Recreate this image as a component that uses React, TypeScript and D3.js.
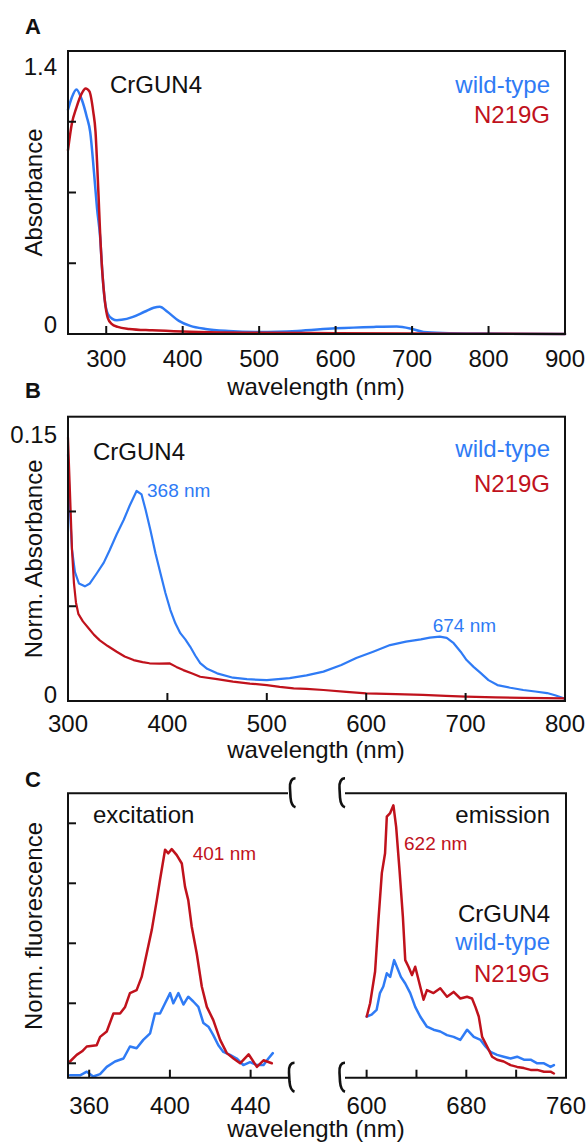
import React from "react";
import * as d3 from "d3";

// ---------- DATA ----------
// Panel A: absorbance spectra
const A_blueNm = [250, 255, 261, 268, 274.5, 279, 284, 288, 292, 295, 298, 302, 308, 314, 320, 335, 350, 362, 370, 380, 395, 410, 430, 460, 500, 550, 600, 650, 680, 700, 715, 740, 800, 900];
const A_blueAbs = [1.11, 1.17, 1.21, 1.16, 1.075, 1.0, 0.8, 0.62, 0.48, 0.3, 0.17, 0.1, 0.075, 0.068, 0.07, 0.085, 0.11, 0.13, 0.135, 0.11, 0.065, 0.04, 0.025, 0.015, 0.01, 0.015, 0.028, 0.035, 0.037, 0.025, 0.01, 0.005, 0.002, 0.0];
const A_redNm = [250, 255, 261, 268, 273, 278, 283, 286, 288, 290, 292, 295, 298, 302, 307, 315, 330, 360, 400, 450, 500, 600, 700, 800, 900];
const A_redAbs = [0.91, 1.04, 1.12, 1.19, 1.215, 1.2, 1.1, 1.0, 0.85, 0.68, 0.5, 0.3, 0.17, 0.08, 0.05, 0.035, 0.025, 0.018, 0.012, 0.008, 0.006, 0.004, 0.002, 0.001, 0.0];
const A_xTicks = [300, 400, 500, 600, 700, 800];
const A_xLabels = [300, 400, 500, 600, 700, 800, 900];
const A_yTicks = [0.35, 0.7, 1.05];
const A_yLabels = ["0", "1.4"];

// Panel B: normalized absorbance
const B_blueNm = [300, 302, 304, 307, 311, 317, 322, 329, 336, 342, 349, 356, 362, 369, 374, 378, 383, 388, 393, 398, 403, 408, 413, 418, 423, 428, 433, 440, 450, 466, 480, 500, 523, 540, 557, 575, 590, 607, 624, 640, 655, 664, 674, 681, 688, 695, 701, 708, 715, 723, 732, 745, 758, 770, 782, 790, 798, 800];
const B_blueAbs = [0.13, 0.1, 0.08, 0.068, 0.062, 0.0605, 0.062, 0.0674, 0.073, 0.0797, 0.088, 0.0955, 0.103, 0.1108, 0.109, 0.101, 0.09, 0.078, 0.0674, 0.057, 0.048, 0.041, 0.0358, 0.0325, 0.0286, 0.024, 0.02, 0.017, 0.0146, 0.0123, 0.0115, 0.011, 0.0121, 0.0135, 0.0155, 0.019, 0.0227, 0.026, 0.0295, 0.0313, 0.0325, 0.0334, 0.034, 0.0333, 0.0305, 0.026, 0.0216, 0.018, 0.0148, 0.011, 0.0084, 0.007, 0.0058, 0.005, 0.0042, 0.003, 0.0016, 0.001];
const B_redNm = [300, 302, 304, 306, 308, 310.4, 315, 320.5, 326, 332, 340, 349, 357, 366, 375, 382, 392, 402, 409, 416, 425, 433, 450, 466, 483, 500, 513, 527, 540, 557, 580, 600, 630, 657, 680, 700, 730, 758, 780, 800];
const B_redAbs = [0.139, 0.11, 0.08, 0.062, 0.052, 0.046, 0.042, 0.0385, 0.035, 0.032, 0.029, 0.026, 0.0235, 0.0216, 0.0205, 0.0199, 0.0197, 0.0199, 0.018, 0.0163, 0.0145, 0.0128, 0.0115, 0.0102, 0.0092, 0.0084, 0.0075, 0.0067, 0.0064, 0.0058, 0.0048, 0.004, 0.0036, 0.0032, 0.0027, 0.0023, 0.0019, 0.0016, 0.0015, 0.0014];
const B_xTicks = [400, 500, 600, 700];
const B_xLabels = [300, 400, 500, 600, 700, 800];
const B_yTicks = [0.05, 0.1];
const B_yLabels = ["0", "0.15"];

// Panel C: fluorescence (excitation / emission), arbitrary units
const C_exBlueNm = [350.5, 355.5, 358.8, 362, 365.4, 368.7, 372.8, 377, 380.2, 383.5, 386.8, 390.2, 392.6, 395.1, 397.6, 400.1, 401.7, 404.2, 406.7, 409.1, 411.6, 414.1, 416.6, 419.1, 421.5, 424, 426.5, 429.8, 433.1, 436.4, 439.7, 443.1, 446.4, 448.8, 451];
const C_exBlue = [-0.2, -0.2, -0.14, -0.22, -0.18, -0.06, 0.03, 0.08, 0.28, 0.25, 0.39, 0.5, 0.83, 0.83, 1.0, 1.17, 1.0, 1.17, 0.98, 1.11, 1.03, 0.94, 0.67, 0.61, 0.47, 0.3, 0.19, 0.14, 0.08, -0.03, 0.02, -0.03, -0.03, 0.08, 0.17];
const C_exRedNm = [350.5, 353.8, 356.5, 358.8, 363.7, 365.4, 368.7, 372, 375.3, 377.8, 380.2, 383.5, 386, 388.5, 391, 393.5, 395.1, 397.6, 399.2, 400.9, 403.4, 405.9, 407.5, 409.1, 410.8, 413.3, 415.8, 418.3, 421.5, 424.9, 428.2, 431.5, 434.8, 439, 443.1, 446.4, 450.5];
const C_exRed = [0.03, 0.14, 0.2, 0.28, 0.3, 0.44, 0.53, 0.83, 0.83, 0.94, 1.17, 1.22, 1.44, 1.83, 2.22, 2.72, 3.06, 3.56, 3.5, 3.57, 3.47, 3.33, 2.94, 2.72, 2.28, 1.83, 1.28, 0.94, 0.72, 0.39, 0.17, 0.08, 0.0, 0.15, -0.06, 0.05, 0.0];
const C_emBlueNm = [600.1, 604, 608, 610.7, 613.4, 616.2, 618.9, 622.1, 624.8, 627.5, 631, 635, 639, 643, 648.4, 653.7, 659.1, 664.5, 669.8, 675.2, 680.6, 686, 691.4, 695.4, 699.4, 704.7, 710, 715.5, 720.8, 726.2, 731.6, 736.9, 742.3, 747.6, 750.3];
const C_emBlue = [0.78, 0.81, 0.89, 1.17, 1.28, 1.5, 1.44, 1.72, 1.58, 1.44, 1.33, 1.17, 0.94, 0.78, 0.61, 0.56, 0.53, 0.47, 0.44, 0.39, 0.56, 0.44, 0.39, 0.28, 0.19, 0.14, 0.11, 0.08, 0.11, 0.06, 0.06, 0.0, 0.0, -0.06, -0.03];
const C_emRedNm = [600.1, 602.8, 606.8, 609.5, 612.2, 614.8, 616.2, 618.9, 621.5, 623.7, 626.4, 629.1, 631, 633.6, 636.4, 639, 643, 645.7, 648.4, 653.7, 659.1, 664.5, 669.8, 675.2, 680.6, 684.6, 687.3, 690, 692.7, 696.7, 700.7, 704.7, 710, 715.5, 720.8, 726.2, 731.6, 736.9, 742.3, 747.6, 750.3];
const C_emRed = [0.78, 1.0, 1.53, 2.39, 3.17, 3.5, 4.11, 4.17, 4.3, 3.94, 3.22, 2.44, 1.72, 1.61, 1.47, 1.61, 1.28, 1.06, 1.22, 1.17, 1.25, 1.11, 1.19, 1.08, 1.11, 1.08, 0.94, 0.78, 0.44, 0.28, 0.11, 0.06, 0.03, -0.03, -0.06, -0.08, -0.11, -0.11, -0.14, -0.14, -0.17];
const C_yTicks = [0, 1, 2, 3, 4];
const C_exTicks = [360, 400, 440];
const C_emTicks = [600, 640, 680, 720];
const C_emLabels = [600, 680, 760];

// ---------- STYLE ----------
const BLUE = "#2f7bf5";
const RED = "#c0121c";
const INK = "#111";
const FONT = "'Liberation Sans', Arial, Helvetica, sans-serif";
const FS = 24;
const FS_ANN = 19;

type Pt = [number, number];
const zip = (xs: number[], ys: number[]): Pt[] => xs.map((x, i) => [x, ys[i]]);

function Curve({ pts, x, y, color, width, smooth }: { pts: Pt[]; x: any; y: any; color: string; width: number; smooth?: boolean }) {
  const gen = d3.line<Pt>().x((d) => x(d[0])).y((d) => y(d[1])).curve(smooth ? d3.curveMonotoneX : d3.curveLinear);
  return <path d={gen(pts) || ""} fill="none" stroke={color} strokeWidth={width} strokeLinejoin="round" strokeLinecap="round" />;
}

// axis-break glyph (a curly bracket-like stroke) centred on (cx, cy)
function breakPath(cx: number, cy: number) {
  return `M${cx + 5},${cy - 15} C${cx + 1},${cy - 15} ${cx - 1},${cy - 11} ${cx - 0.5},${cy - 5} L${cx},${cy + 4} C${cx + 0.5},${cy + 10} ${cx + 2},${cy + 13} ${cx + 5},${cy + 14}`;
}

const T = (props: any) => <text fontFamily={FONT} fontSize={FS} fill={INK} {...props} />;

export default function App() {
  // Panel A
  const ax = d3.scaleLinear().domain([250, 900]).range([68, 565]);
  const ay = d3.scaleLinear().domain([0, 1.4]).range([334, 51]);
  // Panel B
  const bx = d3.scaleLinear().domain([300, 800]).range([68, 565]);
  const by = d3.scaleLinear().domain([0, 0.15]).range([701, 416.7]);
  // Panel C
  const cy = d3.scaleLinear().domain([-0.24, 4.5]).range([1077.7, 793.3]);
  const cxL = d3.scaleLinear().domain([349.5, 461]).range([68, 293]);
  const cxR = d3.scaleLinear().domain([580, 760]).range([341.7, 566]);

  const TICK = 8;
  const frameW = 2;

  const panelFrame = (x: any, y: any) => {
    const [x0, x1] = x.range();
    const [y0, y1] = y.range();
    return <rect x={x0} y={y1} width={x1 - x0} height={y0 - y1} fill="none" stroke={INK} strokeWidth={frameW} />;
  };

  const cTop = cy.range()[1];
  const cBot = cy.range()[0];

  return (
    <svg width={588} height={1143} style={{ position: "absolute", left: 0, top: 0, background: "#fff" }}>
      <rect width={588} height={1143} fill="#fff" />

      {/* ================= Panel A ================= */}
      <text x={25} y={33.5} fontFamily={FONT} fontSize={22} fontWeight="bold" fill={INK}>A</text>
      <Curve pts={zip(A_blueNm, A_blueAbs)} x={ax} y={ay} color={BLUE} width={2.5} smooth />
      <Curve pts={zip(A_redNm, A_redAbs)} x={ax} y={ay} color={RED} width={2.5} smooth />
      {panelFrame(ax, ay)}
      {A_xTicks.map((t) => (
        <line key={t} x1={ax(t)} x2={ax(t)} y1={ay(0)} y2={ay(0) - TICK} stroke={INK} strokeWidth={2} />
      ))}
      {A_yTicks.map((t) => (
        <line key={t} x1={ax(250)} x2={ax(250) + TICK} y1={ay(t)} y2={ay(t)} stroke={INK} strokeWidth={2} />
      ))}
      {A_xLabels.map((t) => (
        <T key={t} x={ax(t)} y={367} textAnchor="middle">{t}</T>
      ))}
      <T x={57} y={333} textAnchor="end">{A_yLabels[0]}</T>
      <T x={57} y={75} textAnchor="end">{A_yLabels[1]}</T>
      <T x={316} y={395} textAnchor="middle">wavelength (nm)</T>
      <T transform={`translate(42,${(ay(0) + ay(1.4)) / 2}) rotate(-90)`} textAnchor="middle">Absorbance</T>
      <T x={110} y={92.5}>CrGUN4</T>
      <T x={550} y={92.5} textAnchor="end" fill={BLUE}>wild-type</T>
      <T x={550} y={122.7} textAnchor="end" fill={RED}>N219G</T>

      {/* ================= Panel B ================= */}
      <text x={25} y={398} fontFamily={FONT} fontSize={22} fontWeight="bold" fill={INK}>B</text>
      <Curve pts={zip(B_blueNm, B_blueAbs)} x={bx} y={by} color={BLUE} width={2.2} />
      <Curve pts={zip(B_redNm, B_redAbs)} x={bx} y={by} color={RED} width={2.2} />
      {panelFrame(bx, by)}
      {B_xTicks.map((t) => (
        <line key={t} x1={bx(t)} x2={bx(t)} y1={by(0)} y2={by(0) - TICK} stroke={INK} strokeWidth={2} />
      ))}
      {B_yTicks.map((t) => (
        <line key={t} x1={bx(300)} x2={bx(300) + TICK} y1={by(t)} y2={by(t)} stroke={INK} strokeWidth={2} />
      ))}
      {B_xLabels.map((t) => (
        <T key={t} x={bx(t)} y={732} textAnchor="middle">{t}</T>
      ))}
      <T x={57} y={703} textAnchor="end">{B_yLabels[0]}</T>
      <T x={57} y={443} textAnchor="end">{B_yLabels[1]}</T>
      <T x={316} y={758} textAnchor="middle">wavelength (nm)</T>
      <T transform={`translate(42,${(by(0) + by(0.15)) / 2}) rotate(-90)`} textAnchor="middle">Norm. Absorbance</T>
      <T x={93} y={460}>CrGUN4</T>
      <T x={550} y={456.7} textAnchor="end" fill={BLUE}>wild-type</T>
      <T x={550} y={491.7} textAnchor="end" fill={RED}>N219G</T>
      <text x={147} y={496.7} fontFamily={FONT} fontSize={FS_ANN} fill={BLUE}>368 nm</text>
      <text x={432.7} y={631.7} fontFamily={FONT} fontSize={FS_ANN} fill={BLUE}>674 nm</text>

      {/* ================= Panel C ================= */}
      <text x={25} y={786.7} fontFamily={FONT} fontSize={22} fontWeight="bold" fill={INK}>C</text>
      <Curve pts={zip(C_exBlueNm, C_exBlue)} x={cxL} y={cy} color={BLUE} width={2.5} />
      <Curve pts={zip(C_exRedNm, C_exRed)} x={cxL} y={cy} color={RED} width={2.5} />
      <Curve pts={zip(C_emBlueNm, C_emBlue)} x={cxR} y={cy} color={BLUE} width={2.5} />
      <Curve pts={zip(C_emRedNm, C_emRed)} x={cxR} y={cy} color={RED} width={2.5} />

      {/* left segment frame */}
      <path d={`M288,${cTop} H${cxL.range()[0]} V${cBot} H288`} fill="none" stroke={INK} strokeWidth={frameW} />
      {/* right segment frame */}
      <path d={`M345,${cTop} H${cxR.range()[1]} V${cBot} H345`} fill="none" stroke={INK} strokeWidth={frameW} />
      {/* axis breaks */}
      <path d={breakPath(290.5, cTop)} fill="none" stroke={INK} strokeWidth={2.6} />
      <path d={breakPath(340, cTop)} fill="none" stroke={INK} strokeWidth={2.6} />
      <path d={breakPath(289.5, cBot)} fill="none" stroke={INK} strokeWidth={2.6} />
      <path d={breakPath(340, cBot)} fill="none" stroke={INK} strokeWidth={2.6} />

      {C_yTicks.map((t) => (
        <line key={t} x1={68} x2={68 + TICK} y1={cy(t)} y2={cy(t)} stroke={INK} strokeWidth={2} />
      ))}
      {C_exTicks.map((t) => (
        <line key={t} x1={cxL(t)} x2={cxL(t)} y1={cBot} y2={cBot - TICK} stroke={INK} strokeWidth={2} />
      ))}
      {C_emTicks.map((t) => (
        <line key={t} x1={cxR(t)} x2={cxR(t)} y1={cBot} y2={cBot - TICK} stroke={INK} strokeWidth={2} />
      ))}
      {C_exTicks.map((t) => (
        <T key={t} x={cxL(t)} y={1114} textAnchor="middle">{t}</T>
      ))}
      {C_emLabels.map((t) => (
        <T key={t} x={cxR(t)} y={1114} textAnchor="middle">{t}</T>
      ))}
      <T x={316} y={1137} textAnchor="middle">wavelength (nm)</T>
      <T transform={`translate(42,926) rotate(-90)`} textAnchor="middle">Norm. fluorescence</T>
      <T x={93} y={823.3}>excitation</T>
      <T x={550} y={823.3} textAnchor="end">emission</T>
      <text x={192.7} y={860} fontFamily={FONT} fontSize={FS_ANN} fill={RED}>401 nm</text>
      <text x={404} y={850} fontFamily={FONT} fontSize={FS_ANN} fill={RED}>622 nm</text>
      <T x={550} y={921.7} textAnchor="end">CrGUN4</T>
      <T x={550} y={950} textAnchor="end" fill={BLUE}>wild-type</T>
      <T x={550} y={981.7} textAnchor="end" fill={RED}>N219G</T>
    </svg>
  );
}
